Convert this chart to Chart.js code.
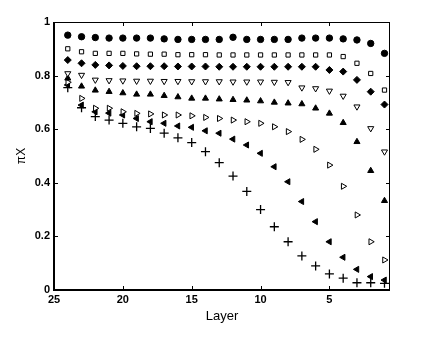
<!DOCTYPE html>
<html><head><meta charset="utf-8">
<script src="https://cdn.jsdelivr.net/npm/chart.js@4.4.0/dist/chart.umd.min.js"></script>
<style>html,body{margin:0;padding:0;background:#fff}canvas{display:block}</style>
</head><body>
<canvas id="c" width="436" height="340"></canvas>
<script>
const layers = [24,23,22,21,20,19,18,17,16,15,14,13,12,11,10,9,8,7,6,5,4,3,2,1];
const xTicks = [25,20,15,10,5];
const yTicks = [0,0.2,0.4,0.6,0.8,1];
const sCircle = [0.951,0.945,0.942,0.94,0.94,0.94,0.94,0.937,0.935,0.935,0.935,0.935,0.943,0.935,0.935,0.935,0.935,0.94,0.94,0.94,0.937,0.933,0.92,0.883];
const sSquare = [0.90,0.889,0.883,0.883,0.883,0.881,0.88,0.88,0.878,0.878,0.878,0.877,0.877,0.877,0.877,0.877,0.877,0.877,0.877,0.877,0.871,0.846,0.808,0.746];
const sDiamond = [0.858,0.846,0.84,0.838,0.836,0.835,0.835,0.835,0.834,0.834,0.834,0.833,0.833,0.833,0.833,0.833,0.833,0.833,0.833,0.821,0.815,0.784,0.74,0.692];
const sDown = [0.808,0.802,0.784,0.782,0.781,0.780,0.780,0.779,0.779,0.778,0.778,0.778,0.777,0.777,0.777,0.776,0.775,0.755,0.752,0.743,0.724,0.684,0.603,0.516];
const sUp = [0.79,0.76,0.745,0.74,0.735,0.73,0.73,0.725,0.72,0.715,0.715,0.712,0.71,0.708,0.705,0.70,0.697,0.694,0.678,0.659,0.624,0.553,0.445,0.333];
const sRight = [0.775,0.715,0.678,0.678,0.665,0.659,0.657,0.653,0.653,0.65,0.644,0.64,0.634,0.628,0.622,0.609,0.591,0.562,0.525,0.466,0.387,0.28,0.18,0.112];
const sLeft = [0.765,0.69,0.665,0.66,0.653,0.64,0.628,0.622,0.612,0.607,0.594,0.585,0.563,0.541,0.51,0.46,0.404,0.33,0.255,0.18,0.122,0.077,0.05,0.037];
const sPlus = [0.755,0.68,0.647,0.634,0.622,0.609,0.603,0.585,0.568,0.55,0.516,0.475,0.425,0.368,0.30,0.236,0.18,0.127,0.09,0.06,0.044,0.027,0.027,0.025];

function pts(arr){ return layers.map((l,i)=>({x:l,y:arr[i]})); }
function ds(arr, style, fill, r, rot, bw){
  return {data:pts(arr), showLine:false, pointStyle:style, pointRadius:r, pointHoverRadius:r,
    pointRotation:rot||0, pointBackgroundColor:fill, pointBorderColor:'#000', pointBorderWidth:bw||1};
}

const framePlugin = {
  id:'frame',
  afterDraw(chart){
    const ctx = chart.ctx, a = chart.chartArea, xs = chart.scales.x, ys = chart.scales.y;
    ctx.save();
    ctx.strokeStyle = '#000';
    ctx.lineWidth = 1;
    ctx.strokeRect(a.left+0.5, a.top+0.5, a.right-a.left-1, a.bottom-a.top-1);
    ctx.lineWidth = 2;
    ctx.beginPath();
    ctx.moveTo(a.left, a.top); ctx.lineTo(a.left, a.bottom); ctx.lineTo(a.right, a.bottom);
    ctx.stroke();
    ctx.lineWidth = 1;
    ctx.beginPath();
    xTicks.forEach(v=>{
      const px = Math.round(xs.getPixelForValue(v))+0.5;
      ctx.moveTo(px, a.bottom); ctx.lineTo(px, a.bottom-4);
      ctx.moveTo(px, a.top); ctx.lineTo(px, a.top+4);
    });
    yTicks.forEach(v=>{
      const py = Math.round(ys.getPixelForValue(v))+0.5;
      ctx.moveTo(a.left, py); ctx.lineTo(a.left+4, py);
      ctx.moveTo(a.right, py); ctx.lineTo(a.right-4, py);
    });
    ctx.stroke();
    ctx.restore();
  }
};

const tickFont = {family:'Liberation Sans, Arial, sans-serif', size:11, weight:'bold'};

new Chart(document.getElementById('c'), {
  type:'scatter',
  data:{datasets:[
    ds(sCircle,'circle','#000',3.2),
    ds(sSquare,'rect','#fff',3),
    ds(sDiamond,'rectRot','#000',3.5),
    ds(sDown,'triangle','#fff',3.5,180),
    ds(sUp,'triangle','#000',3.5),
    ds(sRight,'triangle','#fff',3.5,90),
    ds(sLeft,'triangle','#000',3.5,270),
    ds(sPlus,'cross','#000',4.5,0,1.3)
  ]},
  options:{
    responsive:false, animation:false, devicePixelRatio:1,
    layout:{padding:{left:0,top:22,right:46,bottom:0}},
    plugins:{legend:{display:false}, tooltip:{enabled:false}},
    scales:{
      x:{type:'linear', reverse:true, min:0.6, max:25,
        afterBuildTicks(s){ s.ticks = xTicks.map(v=>({value:v})); },
        afterFit(s){ s.height = 50; },
        grid:{display:false, drawTicks:false},
        border:{display:false},
        ticks:{color:'#000', font:tickFont, padding:3, maxRotation:0, autoSkip:false},
        title:{display:true, text:'Layer', color:'#000', font:{family:'Liberation Sans, Arial, sans-serif', size:13}, padding:{top:0,bottom:16}}
      },
      y:{type:'linear', min:0, max:1,
        afterBuildTicks(s){ s.ticks = yTicks.map(v=>({value:v})); },
        afterFit(s){ s.width = 54; },
        grid:{display:false, drawTicks:false},
        border:{display:false},
        ticks:{color:'#000', font:tickFont, padding:4, callback:v=>String(v)},
        title:{display:true, text:'πX', color:'#000', font:{family:'Liberation Sans, Arial, sans-serif', size:12}, padding:{top:14,bottom:0}}
      }
    }
  },
  plugins:[framePlugin]
});
</script>
</body></html>
